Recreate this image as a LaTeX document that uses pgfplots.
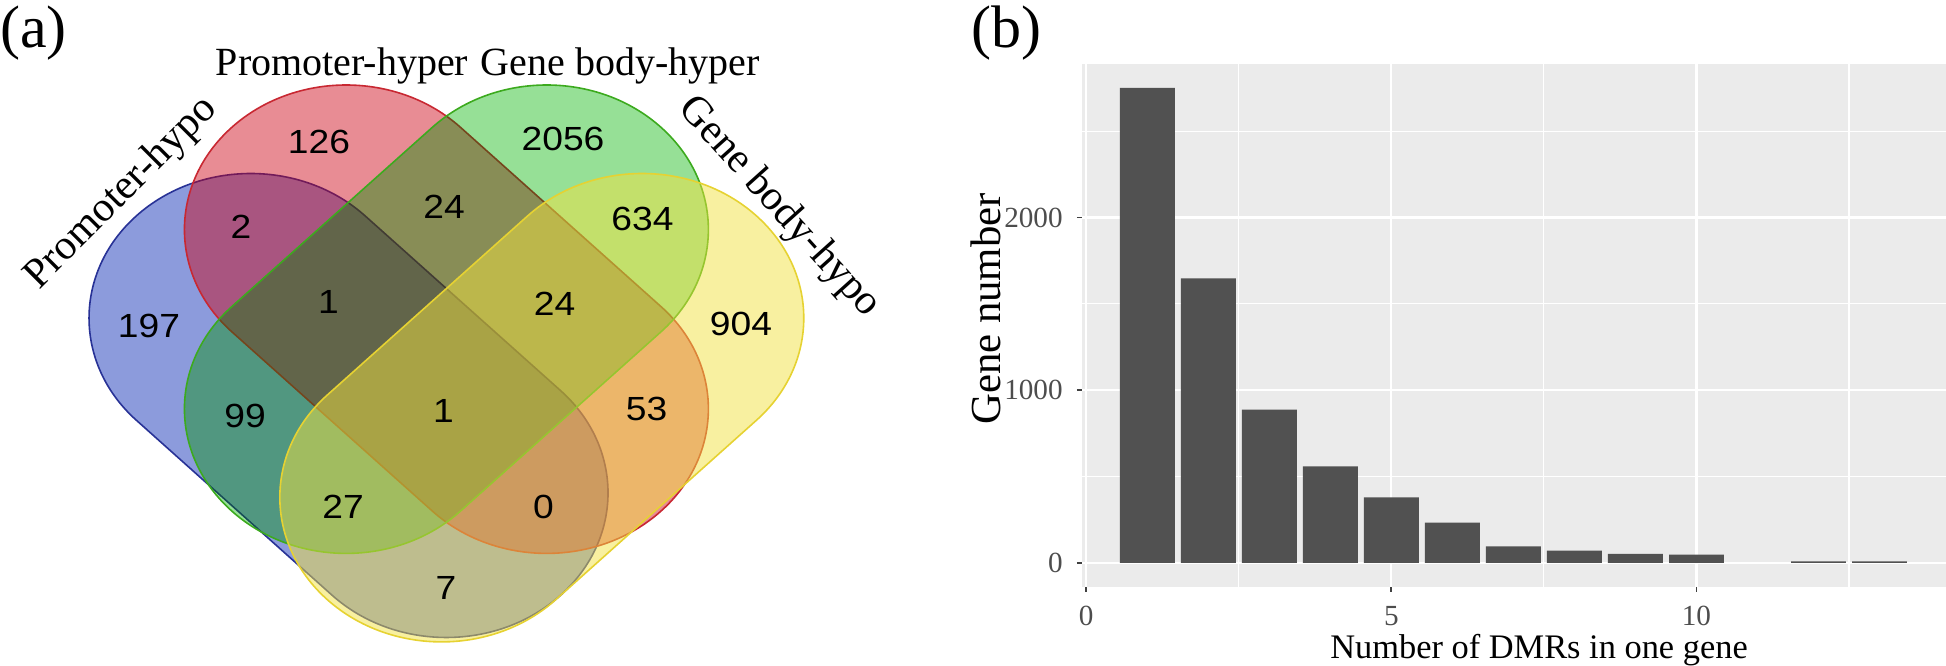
\documentclass[border=0pt]{standalone}
\usepackage{pgfplots}
\pgfplotsset{compat=1.18}
\usepackage{fontspec}
\setmainfont{Liberation Serif}
\newfontfamily\vennnum{Liberation Sans}
\usepackage{graphicx}

\definecolor{ggbg}{HTML}{EBEBEB}
\definecolor{barcol}{HTML}{515151}
\definecolor{tickgray}{HTML}{4D4D4D}
\definecolor{vblue}{RGB}{25,55,185}
\definecolor{vred}{RGB}{204,0,17}
\definecolor{vgreenM}{RGB}{201,244,201}
\definecolor{vgreenN}{RGB}{0,166,0}
\definecolor{vyellow}{RGB}{241,225,65}
\definecolor{vblueE}{RGB}{40,50,150}
\definecolor{vredE}{RGB}{200,40,50}
\definecolor{vgreenE}{RGB}{60,170,30}
\definecolor{vyellowE}{RGB}{230,210,50}

\newcommand{\stadium}{(-35.45pt,-40.425pt) -- (35.45pt,-40.425pt) arc[start angle=-90,end angle=90,radius=40.425pt] -- (-35.45pt,40.425pt) arc[start angle=90,end angle=270,radius=40.425pt] -- cycle}
\newcommand{\stadiumshort}{(-35.45pt,-40.425pt) -- (33.7pt,-40.425pt) arc[start angle=-90,end angle=90,radius=40.425pt] -- (-35.45pt,40.425pt) arc[start angle=90,end angle=270,radius=40.425pt] -- cycle}

\pgfplotstableread{
x y label
149 339 197
319 523 126
563 526.5 2056
741 341 904
241 438.5 2
444 458 24
642.5 446 634
328.5 363.5 1
554.5 361 24
245 249.5 99
443.5 254.5 1
646.5 256.5 53
343 158 27
543.5 158 0
446 77.5 7
}\venncounts

\pgfplotstableread{
x y
1 2751
2 1648
3 888
4 559
5 379
6 234
7 96
8 71
9 52
10 48
12 9
13 9
}\dmrbars

\begin{document}
\begin{tikzpicture}
\useasboundingbox (0,0) rectangle (486.5pt,166.25pt);
% ---------- (a) Venn diagram ----------
\begin{axis}[at={(0pt,0pt)}, anchor=south west, x=0.25pt, y=0.25pt,
  xmin=0, xmax=940, ymin=0, ymax=665, hide axis, clip=false, enlargelimits=false]
\begin{scope}[shift={(axis cs:351,257.3)}, yscale=0.894, rotate=-45]
  \fill[vblue, fill opacity=0.5] \stadiumshort;
  \draw[vblueE, line width=0.4pt] \stadiumshort;
\end{scope}
\begin{scope}[shift={(axis cs:446.4,345.8)}, yscale=0.894, rotate=-45]
  \fill[vred, fill opacity=0.45] \stadium;
  \draw[vredE, line width=0.4pt] \stadium;
\end{scope}
\begin{scope}[shift={(axis cs:446.4,345.8)}, yscale=0.894, rotate=45]
  \begin{scope}[blend mode=multiply]
  \fill[vgreenM] \stadium;
  \end{scope}
  \fill[vgreenN, fill opacity=0.25] \stadium;
  \draw[vgreenE, line width=0.4pt] \stadium;
\end{scope}
\begin{scope}[shift={(axis cs:541.8,257.3)}, yscale=0.894, rotate=45]
  \fill[vyellow, fill opacity=0.5] \stadium;
  \draw[vyellowE, line width=0.4pt] \stadium;
\end{scope}
\addplot[draw=none, mark=none, nodes near coords={\scalebox{1}[0.9]{\pgfplotspointmeta}},
  point meta=explicit symbolic,
  every node near coord/.append style={anchor=center, inner sep=0pt, font=\vennnum\fontsize{9.3}{10}\selectfont, text=black}]
  table[x=x, y=y, meta=label] {\venncounts};
\end{axis}
% ---------- (b) bar chart ----------
\begin{axis}[at={(270.5pt,19.575pt)}, anchor=south west, scale only axis,
  width=216pt, height=130.675pt,
  xmin=-0.07, xmax=14.09, ymin=-137.5, ymax=2888.5,
  axis background/.style={fill=ggbg},
  axis line style={draw=none},
  grid=both,
  major grid style={white, line width=0.55pt},
  minor grid style={white, line width=0.28pt},
  xtick={0,5,10}, minor xtick={2.5,7.5,12.5},
  ytick={0,1000,2000}, minor ytick={500,1500,2500},
  tick align=outside, xtick pos=left, ytick pos=left,
  major tick length=1.3pt, minor tick length=0pt,
  tick style={color=black!75, line width=0.45pt},
  ticklabel style={font=\fontsize{7.3}{8}\selectfont, text=tickgray},
  /pgf/number format/assume math mode=true,
  /pgf/number format/1000 sep={}]
\addplot[ybar, bar width=0.9, fill=barcol, draw=none] table[x=x, y=y] {\dmrbars};
\end{axis}
% ---------- texts ----------
\node[font=\fontsize{15}{16}\selectfont, inner sep=0pt] at (8.4pt,158.1pt) {(a)};
\node[font=\fontsize{15}{16}\selectfont, inner sep=0pt] at (251.6pt,158.1pt) {(b)};
\node[font=\fontsize{10}{12}\selectfont, anchor=base west, inner sep=0pt] at (53.75pt,147.25pt) {Promoter-hyper};
\node[font=\fontsize{10}{12}\selectfont, anchor=base west, inner sep=0pt] at (120pt,147.25pt) {Gene body-hyper};
\node[font=\fontsize{10.5}{12}\selectfont, rotate=45, inner sep=0pt] at (30.4pt,117.9pt) {Promoter-hypo};
\node[font=\fontsize{10.5}{12}\selectfont, rotate=-48, inner sep=0pt] at (194.75pt,114.4pt) {Gene body-hypo};
\node[font=\fontsize{10.7}{12}\selectfont, rotate=90, inner sep=0pt] at (246.5pt,89pt) {Gene number};
\node[font=\fontsize{8.6}{10}\selectfont, anchor=base, inner sep=0pt] at (384.75pt,1.75pt) {Number of DMRs in one gene};
\end{tikzpicture}
\end{document}
